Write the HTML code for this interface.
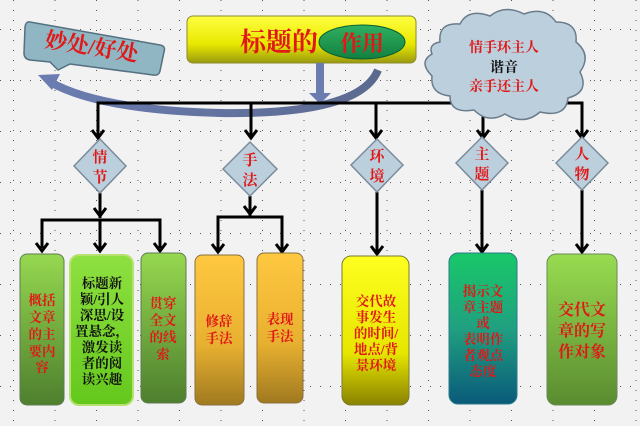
<!DOCTYPE html>
<html><head><meta charset="utf-8"><style>
html,body{margin:0;padding:0;background:#f2f2f2;}
svg{display:block;}
text{font-family:"Liberation Serif","Noto Serif CJK SC","Noto Sans CJK SC",serif;font-weight:bold;}
</style></head><body>
<svg width="640" height="426" viewBox="0 0 640 426" xmlns="http://www.w3.org/2000/svg">
<defs>
<pattern id="gv" width="41.5" height="426" patternUnits="userSpaceOnUse" x="13">
<line x1="0.5" y1="0" x2="0.5" y2="426" stroke="#555" stroke-width="1" stroke-dasharray="1,9"/>
</pattern>
<pattern id="gh" width="640" height="51" patternUnits="userSpaceOnUse" y="29">
<line x1="0" y1="0.5" x2="640" y2="0.5" stroke="#555" stroke-width="1" stroke-dasharray="1,9"/>
</pattern>
<linearGradient id="yel" x1="0" y1="0" x2="0" y2="1"><stop offset="0" stop-color="#ffff40"/><stop offset="0.6" stop-color="#e8e800"/><stop offset="1" stop-color="#9a9a10"/></linearGradient>
<linearGradient id="grn" x1="0" y1="0" x2="0" y2="1"><stop offset="0" stop-color="#96d850"/><stop offset="1" stop-color="#4e7f2e"/></linearGradient>
<linearGradient id="grn2" x1="0" y1="0" x2="0" y2="1"><stop offset="0" stop-color="#8ee040"/><stop offset="1" stop-color="#64c81c"/></linearGradient>
<linearGradient id="org" x1="0" y1="0" x2="0" y2="1"><stop offset="0" stop-color="#ffc840"/><stop offset="0.6" stop-color="#e8b030"/><stop offset="1" stop-color="#a07a20"/></linearGradient>
<linearGradient id="ylw" x1="0" y1="0" x2="0" y2="1"><stop offset="0" stop-color="#ffff20"/><stop offset="0.65" stop-color="#e6e600"/><stop offset="1" stop-color="#8a8200"/></linearGradient>
<linearGradient id="teal" x1="0" y1="0" x2="0" y2="1"><stop offset="0" stop-color="#18c868"/><stop offset="0.5" stop-color="#20a080"/><stop offset="1" stop-color="#0a5a7a"/></linearGradient>
<linearGradient id="grn3" x1="0" y1="0" x2="0" y2="1"><stop offset="0" stop-color="#98dc50"/><stop offset="1" stop-color="#5a8c30"/></linearGradient>
<linearGradient id="ell" x1="0" y1="0" x2="0" y2="1"><stop offset="0" stop-color="#30b060"/><stop offset="1" stop-color="#128040"/></linearGradient>
<linearGradient id="sw" x1="0" y1="0" x2="1" y2="0"><stop offset="0" stop-color="#6b7cb0"/><stop offset="1" stop-color="#5c6a90"/></linearGradient>
</defs>
<rect width="640" height="426" fill="url(#gv)"/>
<rect width="640" height="426" fill="url(#gh)"/>

<!-- callout -->
<path d="M30,22 L160,45 Q166,46 164,52 L160,71 Q159,76 153,75 L70,64 L58,70 L50,62 L30,60 Q24,59 24,53 L25,27 Q26,21 30,22 Z" fill="#8fb6c2" stroke="#557080" stroke-width="1.5"/>
<text x="44" y="54" font-size="22" fill="#e01818" transform="rotate(9 90 50)">妙处/好处</text>

<!-- swoop arrow -->
<path d="M378,70 Q360,115 220,113 Q100,110 50,82" fill="none" stroke="url(#sw)" stroke-width="8"/>
<polygon points="38,75 60,74 52,90" fill="#6b7cb0"/>

<!-- title -->
<rect x="187" y="16" width="229" height="47" rx="6" fill="url(#yel)" stroke="#8a8a30" stroke-width="1"/>
<text x="240" y="51" font-size="26" fill="#e01818">标题的</text>
<ellipse cx="362" cy="42" rx="43" ry="17" fill="url(#ell)" stroke="#0a6030"/>
<text x="340" y="51" font-size="22" fill="#e01818">作用</text>
<rect x="316" y="63" width="8" height="34" fill="#6b7cb0"/>
<polygon points="309,93 331,93 320,104" fill="#6b7cb0"/>

<!-- tree lines -->
<g stroke="#000" stroke-width="3" fill="none">
<polyline points="98,137 98,103 582,103 582,137"/>
<line x1="251" y1="103" x2="251" y2="137"/>
<line x1="376" y1="103" x2="376" y2="137"/>
<line x1="483" y1="103" x2="483" y2="137"/>
<line x1="100" y1="193" x2="100" y2="218"/>
<polyline points="42,248 42,220 160,220 160,248"/>
<line x1="100" y1="220" x2="100" y2="250"/>
<line x1="250" y1="196" x2="250" y2="216"/>
<polyline points="218,250 218,217 282,217 282,250"/>
<line x1="377" y1="192" x2="377" y2="253"/>
<line x1="482" y1="190" x2="482" y2="250"/>
<line x1="582" y1="190" x2="582" y2="250"/>
</g>
<g stroke="#000" stroke-width="3" fill="none" stroke-linejoin="miter">
<polyline points="92,130 98,138 104,130"/>
<polyline points="245,130 251,138 257,130"/>
<polyline points="370,130 376,138 382,130"/>
<polyline points="477,130 483,138 489,130"/>
<polyline points="576,130 582,138 588,130"/>
<polyline points="94,208 100,216 106,208"/>
<polyline points="244,206 250,214 256,206"/>
<polyline points="36,243 42,251 48,243"/>
<polyline points="94,243 100,251 106,243"/>
<polyline points="154,243 160,251 166,243"/>
<polyline points="212,244 218,252 224,244"/>
<polyline points="276,244 282,252 288,244"/>
<polyline points="371,246 377,254 383,246"/>
<polyline points="476,244 482,252 488,244"/>
<polyline points="576,244 582,252 588,244"/>
</g>

<!-- cloud -->
<path d="M440,42 Q438,22 460,24 Q468,8 490,16 Q505,4 524,14 Q545,6 556,22 Q578,22 576,42 Q592,55 580,72 Q590,92 568,98 Q566,118 540,112 Q524,126 505,114 Q488,124 474,110 Q450,114 450,96 Q430,94 432,76 Q418,62 432,54 Q428,44 440,42 Z" fill="#bccfdc" stroke="#6a7c8c" stroke-width="1.5"/>
<text x="504" y="52" font-size="14" fill="#e01818" text-anchor="middle">情手环主人</text>
<text x="504" y="72" font-size="14" fill="#111" text-anchor="middle">谐音</text>
<text x="504" y="91" font-size="14" fill="#e01818" text-anchor="middle">亲手还主人</text>

<!-- diamonds -->
<g fill="#bccfdc" stroke="#7a8c9c" stroke-width="1.5">
<polygon points="100,139 126,166 100,193 74,166"/>
<polygon points="250,142 277,169 250,196 223,169"/>
<polygon points="377,139 403,165 377,192 351,165"/>
<polygon points="482,137 508,163 482,190 456,163"/>
<polygon points="582,137 608,163 582,190 556,163"/>
</g>
<g font-size="15" fill="#e01818" text-anchor="middle">
<text x="100" y="162">情</text><text x="100" y="182">节</text>
<text x="250" y="165">手</text><text x="250" y="185">法</text>
<text x="377" y="161">环</text><text x="377" y="181">境</text>
<text x="482" y="159">主</text><text x="482" y="179">题</text>
<text x="582" y="159">人</text><text x="582" y="179">物</text>
</g>

<!-- boxes -->
<rect x="20" y="254" width="44" height="151" rx="7" fill="url(#grn)" stroke="#607a50"/>
<rect x="70" y="255" width="63" height="150" rx="9" fill="url(#grn2)" stroke="#b8e070" stroke-width="2"/>
<rect x="141" y="253" width="45" height="150" rx="7" fill="url(#grn)" stroke="#607a50"/>
<rect x="195" y="255" width="49" height="150" rx="7" fill="url(#org)" stroke="#8a7040"/>
<rect x="257" y="253" width="46" height="150" rx="7" fill="url(#org)" stroke="#8a7040"/>
<rect x="342" y="256" width="67" height="149" rx="9" fill="url(#ylw)" stroke="#7a7a30"/>
<rect x="449" y="253" width="68" height="151" rx="9" fill="url(#teal)" stroke="#2a7a8a"/>
<rect x="547" y="254" width="70" height="151" rx="9" fill="url(#grn3)" stroke="#6a8a5a"/>

<g font-size="13.5" fill="#e01818" text-anchor="middle">
<text x="42" y="305">概括</text><text x="42" y="322">文章</text><text x="42" y="339">的主</text><text x="42" y="356">要内</text><text x="42" y="372">容</text>
<text x="163" y="308">贯穿</text><text x="163" y="325">全文</text><text x="163" y="342">的线</text><text x="163" y="359">索</text>
<text x="219" y="326">修辞</text><text x="219" y="343">手法</text>
<text x="280" y="324">表现</text><text x="280" y="341">手法</text>
<text x="376" y="306">交代故</text><text x="376" y="322">事发生</text><text x="376" y="338">的时间/</text><text x="376" y="354">地点/背</text><text x="376" y="370">景环境</text>
<text x="483" y="296">揭示文</text><text x="483" y="312">章主题</text><text x="483" y="328">或</text><text x="483" y="344">表明作</text><text x="483" y="360">者观点</text><text x="483" y="376">态度</text>
</g>
<g font-size="13.5" fill="#111" text-anchor="middle">
<text x="102" y="288">标题新</text><text x="102" y="304">颖/引人</text><text x="102" y="320">深思/设</text><text x="102" y="336">置悬念，</text><text x="102" y="352">激发读</text><text x="102" y="368">者的阅</text><text x="102" y="384">读兴趣</text>
</g>
<g font-size="16" fill="#e01818" text-anchor="middle">
<text x="582" y="315">交代文</text><text x="582" y="336">章的写</text><text x="582" y="357">作对象</text>
</g>
</svg>
</body></html>
